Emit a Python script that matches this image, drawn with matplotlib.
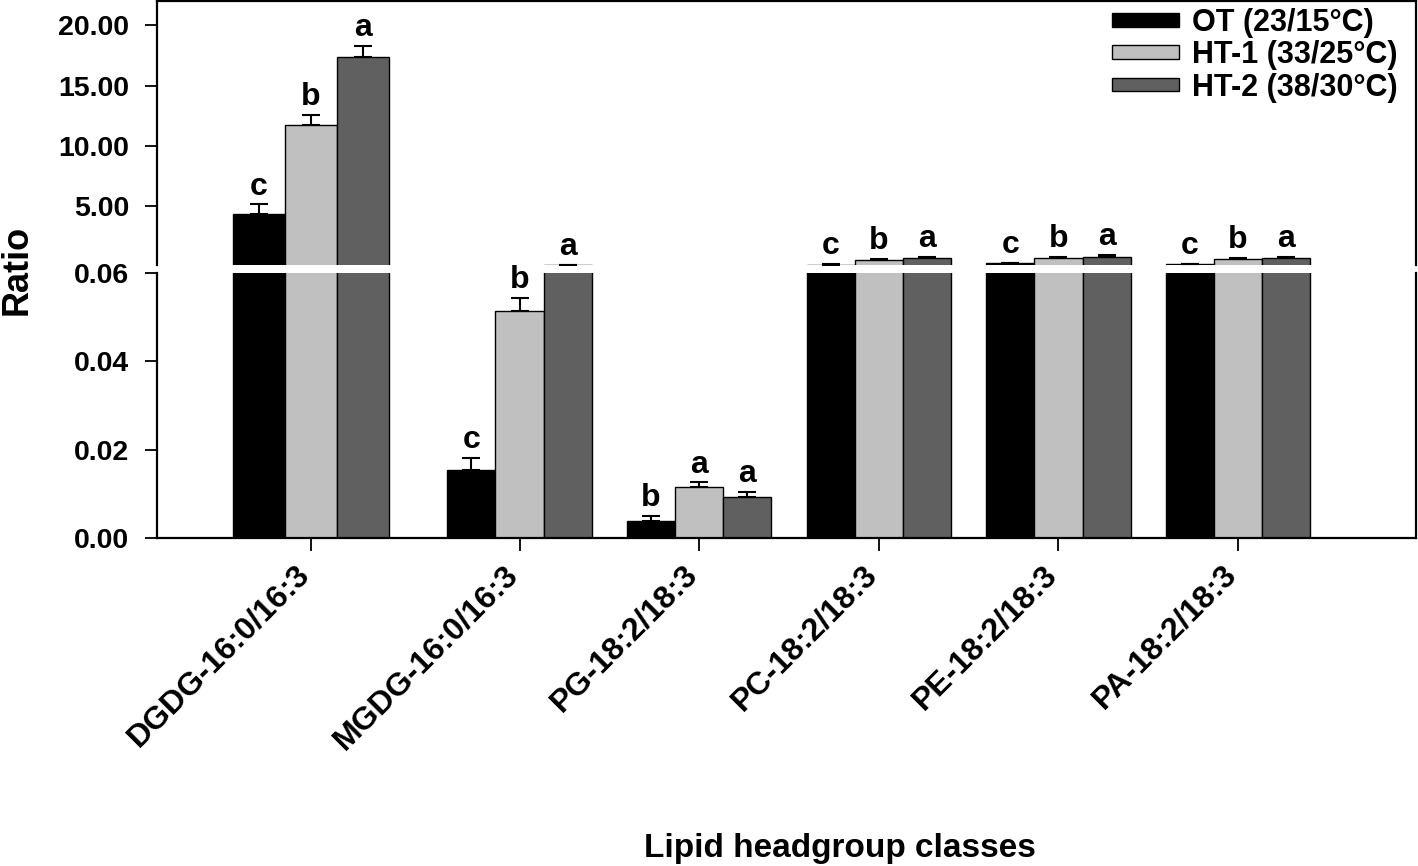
import matplotlib
matplotlib.use("Agg")
import matplotlib.pyplot as plt
from matplotlib.ticker import FormatStrFormatter
import numpy as np

plt.rcParams['font.family'] = ['Liberation Sans', 'DejaVu Sans']
plt.rcParams['font.weight'] = 'bold'

categories = ['DGDG-16:0/16:3', 'MGDG-16:0/16:3', 'PG-18:2/18:3',
              'PC-18:2/18:3', 'PE-18:2/18:3', 'PA-18:2/18:3']
series_names = ['OT (23/15°C)', 'HT-1 (33/25°C)', 'HT-2 (38/30°C)']

ot = [4.38, 0.0155, 0.0039, 0.19, 0.29, 0.22]
ht1 = [11.78, 0.0515, 0.0116, 0.56, 0.70, 0.62]
ht2 = [17.40, 0.16, 0.0093, 0.70, 0.83, 0.70]

ot_err = [0.80, 0.0027, 0.0011, 0.03, 0.03, 0.03]
ht1_err = [0.82, 0.0028, 0.0010, 0.10, 0.12, 0.10]
ht2_err = [0.90, 0.0, 0.0011, 0.15, 0.15, 0.15]

ot_letters = ['c', 'c', 'b', 'c', 'c', 'c']
ht1_letters = ['b', 'b', 'a', 'b', 'b', 'b']
ht2_letters = ['a', 'a', 'a', 'a', 'a', 'a']

colors = ['#000000', '#c0c0c0', '#606060']
BREAK = 0.06
TOP_MIN = 0.15

fig = plt.figure(figsize=(14.18, 8.66), dpi=100)
ax_top = fig.add_axes([0.1107, 0.694, 0.8879, 0.3048])
ax_bot = fig.add_axes([0.1107, 0.3788, 0.8879, 0.3060])

x = np.arange(len(categories), dtype=float)
x[0] -= 0.16   # first group sits a bit further left in the original
w = np.full(len(categories), 0.268)
w[0] = 0.29    # and its bars are a little wider

groups = [(ot, ot_err, ot_letters), (ht1, ht1_err, ht1_letters), (ht2, ht2_err, ht2_letters)]

for i, (vals, errs, letters) in enumerate(groups):
    xs = x + (i - 1) * w
    vals = np.asarray(vals, dtype=float)
    errs = np.asarray(errs, dtype=float)
    # upper panel only gets bars that reach into it
    vals_top = np.where(vals >= TOP_MIN, vals, np.nan)
    for ax, v in ((ax_top, vals_top), (ax_bot, vals)):
        ax.bar(xs, v, w, color=colors[i], edgecolor='black', linewidth=1.0,
               label=series_names[i], zorder=2)
        ax.errorbar(xs, v, yerr=[np.zeros(len(errs)), errs], fmt='none',
                    ecolor='black', elinewidth=1.5, capsize=6.5, capthick=1.5, zorder=1)
    for xi, v, e, l in zip(xs, vals, errs, letters):
        top = v + e
        ax = ax_top if top > BREAK else ax_bot
        ax.annotate(l, xy=(xi, top), xytext=(0, 7), textcoords='offset points',
                    ha='center', va='baseline', fontsize=23, fontweight='bold')

for ax in (ax_top, ax_bot):
    ax.set_xlim(-1.018, 5.99)
    for s in ax.spines.values():
        s.set_linewidth(1.6)
    ax.tick_params(axis='y', direction='out', length=9, width=1.3, pad=11,
                   labelsize=20.5)
    ax.yaxis.set_major_formatter(FormatStrFormatter('%.2f'))

ax_top.set_ylim(TOP_MIN, 22.0)
ax_top.set_yticks([5, 10, 15, 20])
ax_top.spines['bottom'].set_visible(False)
ax_top.tick_params(axis='x', bottom=False, labelbottom=False)

ax_bot.set_ylim(0, BREAK)
ax_bot.set_yticks([0.0, 0.02, 0.04, 0.06])
ax_bot.spines['top'].set_visible(False)
ax_bot.set_xticks(x)
ax_bot.set_xticklabels(categories)
ax_bot.tick_params(axis='x', direction='out', length=9, width=1.3, pad=18,
                   labelsize=23)
plt.setp(ax_bot.get_xticklabels(), rotation=45, ha='right', va='baseline',
         rotation_mode='anchor')

ax_top.legend(loc='upper right', bbox_to_anchor=(0.985, 0.975), frameon=False,
              fontsize=22, handlelength=2.2, handleheight=0.32,
              handletextpad=0.4, labelspacing=0.08, borderpad=0.0,
              borderaxespad=0.0)

fig.text(0.012, 1 - 270 / 866, 'Ratio', rotation=90, ha='center', va='center',
         fontsize=26, fontweight='bold')
fig.text(0.592, 1 - 848 / 866, 'Lipid headgroup classes', ha='center',
         va='center', fontsize=24, fontweight='bold')

fig.savefig('out.png', dpi=100)
